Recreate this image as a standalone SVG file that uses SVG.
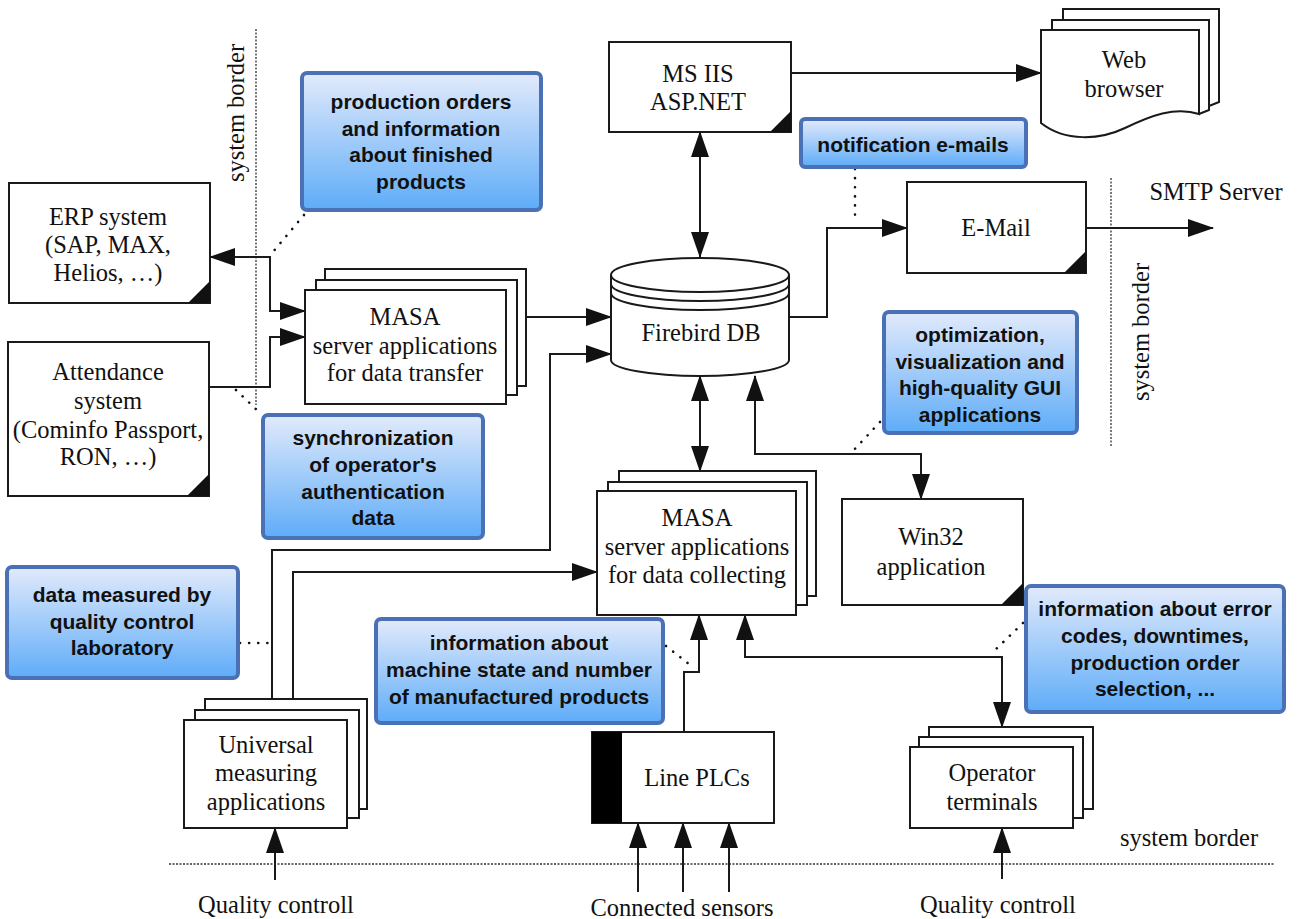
<svg xmlns="http://www.w3.org/2000/svg" width="1298" height="919" viewBox="0 0 1298 919">
<defs>
<linearGradient id="ng" x1="0" y1="0" x2="0" y2="1">
<stop offset="0" stop-color="#e2eafb"/>
<stop offset="1" stop-color="#5eacf8"/>
</linearGradient>
<marker id="ah" viewBox="0 0 26 18" refX="25" refY="9" markerWidth="26" markerHeight="18" markerUnits="userSpaceOnUse" orient="auto-start-reverse">
<path d="M0,0 L26,9 L0,18 z" fill="#111"/>
</marker>
<style>
.box{fill:#fff;stroke:#1a1a1a;stroke-width:2}
.ln{fill:none;stroke:#1a1a1a;stroke-width:2}
.arr{marker-end:url(#ah)}
.bi{marker-start:url(#ah);marker-end:url(#ah)}
.dot{fill:none;stroke:#111;stroke-width:2.6;stroke-dasharray:0.1 9;stroke-linecap:round}
.bord{fill:none;stroke:#333;stroke-width:1.3;stroke-dasharray:2 1.5}
.note{fill:url(#ng);stroke:#4a70b6;stroke-width:4}
.tri{fill:#111}
.s{font-family:"Liberation Serif","Times New Roman",serif;font-size:24.5px;fill:#111;text-anchor:middle}
.b{font-family:"Liberation Sans",Arial,sans-serif;font-weight:bold;font-size:21px;fill:#111;text-anchor:middle}
</style>
</defs>
<rect width="1298" height="919" fill="#fff"/>

<!-- system borders -->
<g id="borders">
<line class="bord" x1="256" y1="29" x2="256" y2="405"/>
<line class="bord" x1="1111" y1="178" x2="1111" y2="447"/>
<line class="bord" x1="169" y1="864" x2="1275" y2="864"/>
<text class="s" transform="translate(244,113) rotate(-90)">system border</text>
<text class="s" transform="translate(1149,332) rotate(-90)">system border</text>
<text class="s" x="1189" y="846">system border</text>
</g>

<!-- connectors -->
<g id="connectors">
<path class="ln bi" d="M210,257 H270 V311 H305"/>
<path class="ln arr" d="M210,387 H270 V337 H305"/>
<path class="ln arr" d="M526,317 H611"/>
<path class="ln arr" d="M272,699 V550 H550 V354 H611"/>
<path class="ln arr" d="M293,699 V572 H597"/>
<path class="ln bi" d="M700,132 V257"/>
<path class="ln arr" d="M791,73 H1041"/>
<path class="ln arr" d="M789,317 H827 V228 H907"/>
<path class="ln arr" d="M1086,228 H1213"/>
<path class="ln bi" d="M700,376 V471"/>
<path class="ln bi" d="M755,376 V454 H921 V499"/>
<path class="ln arr" d="M684,732 V672 H699 V615"/>
<path class="ln bi" d="M745,615 V657 H1002 V727"/>
<path class="ln arr" d="M638,892 V823"/>
<path class="ln arr" d="M683,892 V823"/>
<path class="ln arr" d="M729,892 V823"/>
<path class="ln arr" d="M275,880 V828"/>
<path class="ln arr" d="M1002,879 V828"/>
<path class="dot" d="M304,215 L272,253"/>
<path class="dot" d="M236,390 L260,413"/>
<path class="dot" d="M855,169 V222"/>
<path class="dot" d="M880,422 L852,452"/>
<path class="dot" d="M240,643 H270"/>
<path class="dot" d="M666,646 L694,668"/>
<path class="dot" d="M1023,623 L993,652"/>
</g>

<!-- nodes -->
<g id="erp">
<rect class="box" x="9" y="183" width="201" height="120"/>
<path class="tri" d="M210,303 H188 L210,281 z"/>
<text class="s" x="108" y="225">ERP system</text>
<text class="s" x="108" y="253">(SAP, MAX,</text>
<text class="s" x="108" y="281">Helios, …)</text>
</g>

<g id="attendance">
<rect class="box" x="8" y="342" width="201" height="154"/>
<path class="tri" d="M209,496 H187 L209,474 z"/>
<text class="s" x="108" y="380">Attendance</text>
<text class="s" x="108" y="409">system</text>
<text class="s" x="108" y="438">(Cominfo Passport,</text>
<text class="s" x="108" y="465">RON, …)</text>
</g>

<g id="masa-transfer">
<rect class="box" x="325" y="269" width="201" height="117"/>
<rect class="box" x="316" y="280" width="201" height="115"/>
<rect class="box" x="305" y="290" width="201" height="114"/>
<text class="s" x="405" y="325">MASA</text>
<text class="s" x="405" y="354">server applications</text>
<text class="s" x="405" y="381">for data transfer</text>
</g>

<g id="firebird">
<path class="box" d="M611,275 V360 A89,16 0 0 0 789,360 V275"/>
<ellipse class="box" cx="700" cy="275" rx="89" ry="17"/>
<path class="ln" d="M611,284 A89,17 0 0 0 789,284"/>
<path class="ln" d="M611,293 A89,17 0 0 0 789,293"/>
<text class="s" x="701" y="341">Firebird DB</text>
</g>

<g id="msiis">
<rect class="box" x="609" y="42" width="182" height="90"/>
<path class="tri" d="M791,132 H770 L791,111 z"/>
<text class="s" x="698" y="82">MS IIS</text>
<text class="s" x="698" y="110">ASP.NET</text>
</g>

<g id="webbrowser">
<path class="box" d="M1063,20 V9 H1219 V102 L1209,106"/>
<path class="box" d="M1052,30 V20 H1209 V110 L1199,114"/>
<path class="box" d="M1041,123 V30 H1199 V114 C1175,106 1150,116 1125,128 C1100,140 1065,142 1041,123 z"/>
<text class="s" x="1124" y="68">Web</text>
<text class="s" x="1124" y="97">browser</text>
</g>

<g id="email">
<rect class="box" x="907" y="182" width="179" height="91"/>
<path class="tri" d="M1086,273 H1064 L1086,251 z"/>
<text class="s" x="996" y="236">E-Mail</text>
</g>

<g id="smtp">
<text class="s" x="1216" y="200">SMTP Server</text>
</g>

<g id="masa-collecting">
<rect class="box" x="619" y="471" width="197" height="125"/>
<rect class="box" x="608" y="482" width="199" height="123"/>
<rect class="box" x="597" y="491" width="199" height="124"/>
<text class="s" x="697" y="526">MASA</text>
<text class="s" x="697" y="555">server applications</text>
<text class="s" x="697" y="583">for data collecting</text>
</g>

<g id="win32">
<rect class="box" x="842" y="499" width="181" height="106"/>
<path class="tri" d="M1023,605 H1001 L1023,583 z"/>
<text class="s" x="931" y="545">Win32</text>
<text class="s" x="931" y="575">application</text>
</g>

<g id="universal">
<rect class="box" x="205" y="699" width="162" height="110"/>
<rect class="box" x="195" y="710" width="164" height="108"/>
<rect class="box" x="184" y="720" width="163" height="108"/>
<text class="s" x="266" y="753">Universal</text>
<text class="s" x="266" y="781">measuring</text>
<text class="s" x="266" y="810">applications</text>
</g>

<g id="plcs">
<rect class="box" x="592" y="732" width="182" height="91"/>
<rect x="592" y="732" width="30" height="91" fill="#000"/>
<text class="s" x="697" y="786">Line PLCs</text>
</g>

<g id="operator">
<rect class="box" x="929" y="727" width="164" height="82"/>
<rect class="box" x="919" y="737" width="164" height="81"/>
<rect class="box" x="910" y="747" width="163" height="81"/>
<text class="s" x="992" y="781">Operator</text>
<text class="s" x="992" y="810">terminals</text>
</g>

<g id="labels">
<text class="s" x="276" y="913">Quality controll</text>
<text class="s" x="682" y="916">Connected sensors</text>
<text class="s" x="998" y="913">Quality controll</text>
</g>

<g id="note-orders">
<rect class="note" x="302" y="73" width="239" height="137" rx="5"/>
<text class="b" x="421" y="109">production orders</text>
<text class="b" x="421" y="136">and information</text>
<text class="b" x="421" y="162">about finished</text>
<text class="b" x="421" y="189">products</text>
</g>

<g id="note-sync">
<rect class="note" x="263" y="415" width="220" height="123" rx="5"/>
<text class="b" x="373" y="445">synchronization</text>
<text class="b" x="373" y="472">of operator's</text>
<text class="b" x="373" y="499">authentication</text>
<text class="b" x="373" y="525">data</text>
</g>

<g id="note-mails">
<rect class="note" x="801" y="119" width="225" height="48" rx="4"/>
<text class="b" x="913" y="152">notification e-mails</text>
</g>

<g id="note-gui">
<rect class="note" x="884" y="312" width="193" height="121" rx="5"/>
<text class="b" x="980" y="342">optimization,</text>
<text class="b" x="980" y="369">visualization and</text>
<text class="b" x="980" y="395">high-quality GUI</text>
<text class="b" x="980" y="422">applications</text>
</g>

<g id="note-lab">
<rect class="note" x="7" y="567" width="231" height="111" rx="5"/>
<text class="b" x="122" y="602">data measured by</text>
<text class="b" x="122" y="629">quality control</text>
<text class="b" x="122" y="655">laboratory</text>
</g>

<g id="note-machine">
<rect class="note" x="376" y="619" width="287" height="104" rx="5"/>
<text class="b" x="519" y="650">information about</text>
<text class="b" x="519" y="677">machine state and number</text>
<text class="b" x="519" y="704">of manufactured products</text>
</g>

<g id="note-errors">
<rect class="note" x="1026" y="586" width="258" height="126" rx="5"/>
<text class="b" x="1155" y="616">information about error</text>
<text class="b" x="1155" y="643">codes, downtimes,</text>
<text class="b" x="1155" y="670">production order</text>
<text class="b" x="1155" y="696">selection, ...</text>
</g>
</svg>
